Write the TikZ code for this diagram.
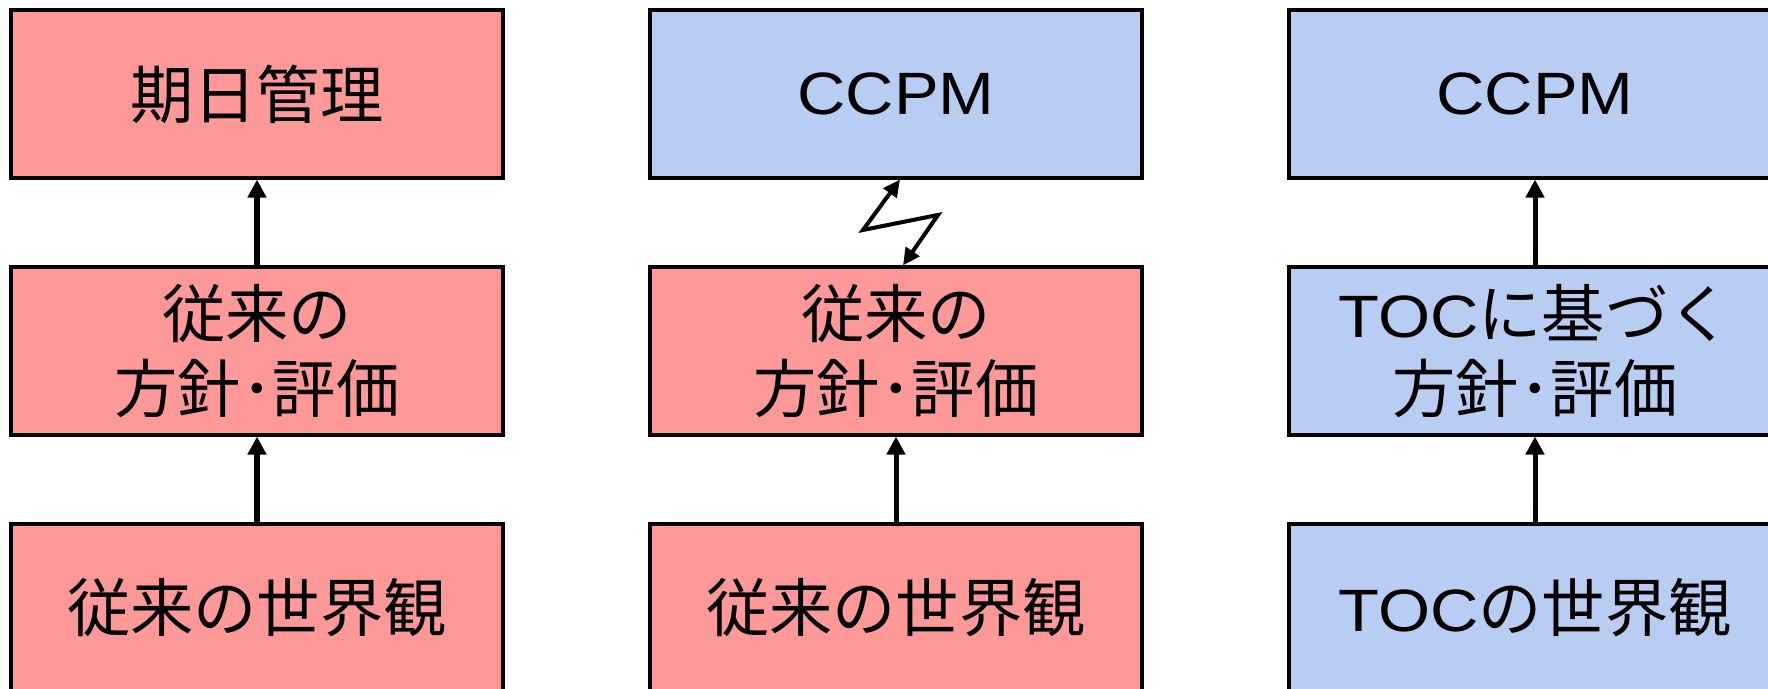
\documentclass[tikz,border=0pt]{standalone}
\usepackage{fontspec}
\setmainfont[FakeStretch=1.12]{Liberation Sans}
\newfontfamily\jpfont{Noto Sans CJK JP}
\usetikzlibrary{arrows.meta}
\definecolor{oldred}{RGB}{255,153,153}
\definecolor{tocblue}{RGB}{185,205,242}
\newcommand{\lat}[1]{{\rmfamily\fontsize{17}{21.3}\selectfont #1}}
\tikzset{
  box/.style={draw=black, line width=0.04cm, minimum width=4.92cm, minimum height=1.67cm,
    inner sep=0pt, align=center, font=\fontsize{17}{21.3}\selectfont},
  oldbox/.style={box, fill=oldred},
  tocbox/.style={box, fill=tocblue},
  jp/.style={font=\jpfont\fontsize{18}{21.3}\selectfont},
  up/.style={line width=0.05cm, -{Triangle[length=0.18cm,width=0.18cm]}},
  bolt/.style={line width=0.04cm, line join=miter, {Triangle[length=0.17cm,width=0.16cm]}-{Triangle[length=0.17cm,width=0.16cm]}},
}
\begin{document}
\begin{tikzpicture}[x=0.01cm,y=-0.01cm]
	\useasboundingbox (0,0) rectangle (1768,689);
	\clip (0,0) rectangle (1768,689);
	% conventional
	\node[oldbox,jp] (due1) at (257,94) {期日管理};
	\node[oldbox,jp] (pol1) at (257,351) {従来の\\方針･評価};
	\node[oldbox,jp] (view1) at (257,608) {従来の世界観};
	% CCPM on the old base
	\node[tocbox] (ccpm2) at (896,94) {CCPM};
	\node[oldbox,jp] (pol2) at (896,351) {従来の\\方針･評価};
	\node[oldbox,jp] (view2) at (896,608) {従来の世界観};
	% CCPM on TOC
	\node[tocbox] (ccpm3) at (1535,94) {CCPM};
	\node[tocbox,jp] (pol3) at (1535,351) {\lat{TOC}に基づく\\方針･評価};
	\node[tocbox,jp] (view3) at (1535,608) {\lat{TOC}の世界観};
	\draw[up] (view1) -- (pol1);
	\draw[up] (pol1) -- (due1);
	\draw[up] (view2) -- (pol2);
	\draw[up] (view3) -- (pol3);
	\draw[up] (pol3) -- (ccpm3);
	% clash
	\coordinate (zl) at (863,230);
	\coordinate (zr) at (938,215);
	\draw[bolt] ([xshift=0.07cm]pol2.north) -- (zr) -- (zl) -- ([xshift=0.04cm]ccpm2.south);
\end{tikzpicture}
\end{document}
